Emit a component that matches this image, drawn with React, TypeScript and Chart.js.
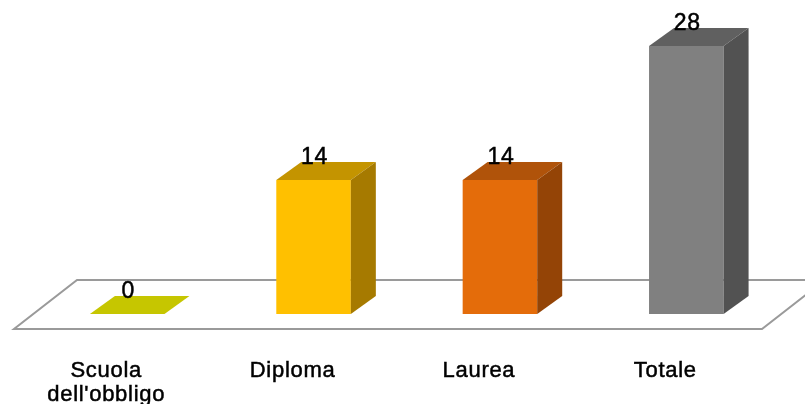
import React, { useEffect, useRef } from "react";
import { Chart, registerables } from "chart.js";

Chart.register(...registerables);

// ---- Data ----
const categories: string[][] = [["Scuola", "dell'obbligo"], ["Diploma"], ["Laurea"], ["Totale"]];
const values: number[] = [0, 14, 14, 28];
const frontColors: string[] = ["#D4D400", "#FFC000", "#E46C0A", "#808080"];
const topColors: string[] = ["#C6C600", "#C49400", "#B0530A", "#606060"];
const sideColors: string[] = ["#A8A800", "#A67A00", "#944406", "#525252"];

const DX = 25;
const DY = -18;
const FONT = "'Liberation Sans', Arial, sans-serif";

const bar3d = {
  id: "bar3d",
  beforeDatasetsDraw(chart: any) {
    const ctx = chart.ctx;
    const ca = chart.chartArea;
    const y0 = chart.scales.y.getPixelForValue(0);
    const front = y0 + 15;
    const back = y0 - 34;
    const x1 = ca.left - 20;
    const x2 = ca.right - 17.5;
    const off = 63;
    ctx.save();
    ctx.beginPath();
    ctx.moveTo(x1, front);
    ctx.lineTo(x2, front);
    ctx.lineTo(x2 + off, back);
    ctx.lineTo(x1 + off, back);
    ctx.closePath();
    ctx.fillStyle = "#ffffff";
    ctx.fill();
    ctx.strokeStyle = "#9a9a9a";
    ctx.lineWidth = 2;
    ctx.stroke();
    ctx.restore();
  },
  afterDatasetsDraw(chart: any) {
    const ctx = chart.ctx;
    const meta = chart.getDatasetMeta(0);
    const y0 = chart.scales.y.getPixelForValue(0);
    ctx.save();
    meta.data.forEach((el: any, i: number) => {
      const { x, y, base, width } = el.getProps(["x", "y", "base", "width"], true);
      const l = x - width / 2;
      const r = x + width / 2;
      // top face
      ctx.beginPath();
      ctx.moveTo(l, y);
      ctx.lineTo(r, y);
      ctx.lineTo(r + DX, y + DY);
      ctx.lineTo(l + DX, y + DY);
      ctx.closePath();
      ctx.fillStyle = topColors[i];
      ctx.fill();
      // side face
      if (base - y > 0.5) {
        ctx.beginPath();
        ctx.moveTo(r, y);
        ctx.lineTo(r + DX, y + DY);
        ctx.lineTo(r + DX, base + DY);
        ctx.lineTo(r, base);
        ctx.closePath();
        ctx.fillStyle = sideColors[i];
        ctx.fill();
      }
      ctx.fillStyle = "#000";
      ctx.strokeStyle = "#000";
      ctx.lineWidth = 0.5;
      ctx.textAlign = "center";
      ctx.textBaseline = "alphabetic";
      (ctx as any).letterSpacing = "0.7px";
      // value label
      ctx.font = `23px ${FONT}`;
      ctx.fillText(String(values[i]), x + 1, y - 16.5);
      ctx.strokeText(String(values[i]), x + 1, y - 16.5);
      // category label
      ctx.font = `22px ${FONT}`;
      const lines = categories[i];
      lines.forEach((line, k) => {
        ctx.fillText(line, x - 21, y0 + 63 + k * 24);
        ctx.strokeText(line, x - 21, y0 + 63 + k * 24);
      });
      (ctx as any).letterSpacing = "0px";
    });
    ctx.restore();
  },
};

export default function App() {
  const ref = useRef<HTMLCanvasElement | null>(null);
  useEffect(() => {
    document.body.style.margin = "0";
    const canvas = ref.current!;
    const chart = new Chart(canvas, {
      type: "bar",
      data: {
        labels: categories.map((c) => c.join(" ")),
        datasets: [
          {
            data: values,
            backgroundColor: frontColors,
            borderWidth: 0,
            barPercentage: 0.4,
            categoryPercentage: 1,
          },
        ],
      },
      options: {
        responsive: false,
        animation: false,
        devicePixelRatio: 1,
        layout: { padding: { top: 46, bottom: 90, left: 34, right: 25.5 } },
        plugins: { legend: { display: false }, tooltip: { enabled: false } },
        scales: {
          x: { display: false, offset: true },
          y: { display: false, min: 0, max: 28 },
        },
      },
      plugins: [bar3d],
    });
    return () => chart.destroy();
  }, []);
  return (
    <div style={{ width: 805, height: 404 }}>
      <canvas ref={ref} width={805} height={404} />
    </div>
  );
}
